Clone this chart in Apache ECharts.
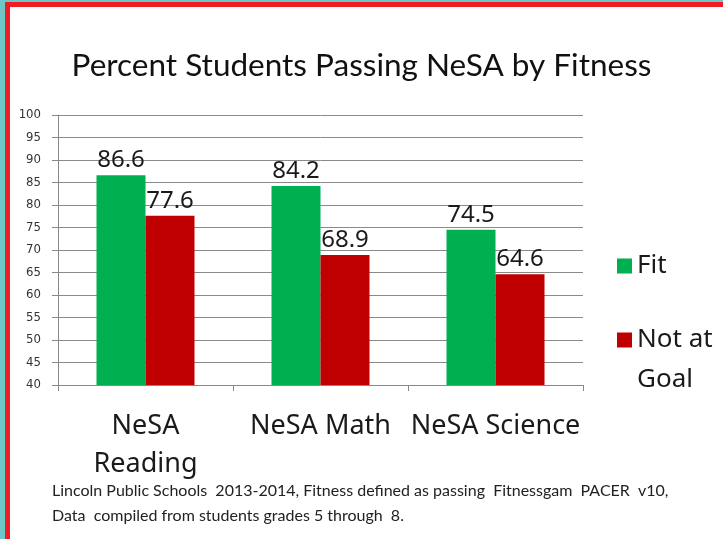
<!DOCTYPE html>
<html>
<head>
<meta charset="utf-8">
<script src="https://cdn.jsdelivr.net/npm/echarts@6/dist/echarts.min.js"></script>
<style>
    html, body {margin:0;padding:0;background:#6ec6c6}
    #chart {width:723px;height:539px}
</style>
</head>
<body>
<div id="chart"></div>
<script>
    var categories = ['NeSA\nReading', 'NeSA Math', 'NeSA Science'];
    var fitValues = [86.6, 84.2, 74.5];
    var notAtGoalValues = [77.6, 68.9, 64.6];
    var seriesNames = ['Fit', 'Not at Goal'];
    var titleText = 'Percent Students Passing NeSA by Fitness';
    var noteText = 'Lincoln Public Schools  2013-2014, Fitness defined as passing  Fitnessgam  PACER  v10,\nData  compiled from students grades 5 through  8.';

    var chart = echarts.init(document.getElementById('chart'));

    var labelStyle = {
        show: true,
        position: 'top',
        distance: 3,
        fontSize: 24,
        color: '#1a1a1a',
        fontFamily: 'Noto Sans'
    };

    chart.setOption({
        animation: false,
        backgroundColor: 'transparent',
        graphic: [
            // red frame + white page (decoration of the slide)
            {type: 'rect', left: 5, top: 2, shape: {width: 718, height: 537}, style: {fill: '#ee1c25'}, silent: true, z: -10},
            {type: 'rect', left: 10, top: 7, shape: {width: 713, height: 532}, style: {fill: '#ffffff'}, silent: true, z: -9}
        ],
        title: [
            {
                text: titleText,
                left: 'center',
                top: 45,
                textStyle: {fontSize: 31.5, fontWeight: 'normal', color: '#111', fontFamily: 'Lato'}
            },
            {
                text: noteText,
                left: 47,
                top: 473,
                textStyle: {fontSize: 16, fontWeight: 'normal', color: '#222', fontFamily: 'Lato', lineHeight: 25}
            }
        ],
        legend: {
            orient: 'vertical',
            left: 612,
            top: 241,
            itemWidth: 15,
            itemHeight: 15,
            itemGap: -6,
            icon: 'rect',
            data: seriesNames,
            formatter: function (name) {
                return name === 'Not at Goal' ? '\nNot at\nGoal' : name;
            },
            textStyle: {fontSize: 26, color: '#1a1a1a', fontFamily: 'Noto Sans', lineHeight: 40}
        },
        grid: {left: 58, right: 140, top: 115, bottom: 154},
        xAxis: {
            type: 'category',
            data: categories,
            axisLine: {lineStyle: {color: '#888', width: 1}},
            axisTick: {show: true, length: 6, lineStyle: {color: '#888'}},
            axisLabel: {fontSize: 27, color: '#1a1a1a', fontFamily: 'Noto Sans', lineHeight: 38, margin: 22, interval: 0}
        },
        yAxis: {
            type: 'value',
            min: 40,
            max: 100,
            interval: 5,
            axisLine: {show: true, lineStyle: {color: '#888'}},
            axisTick: {show: true, length: 6, lineStyle: {color: '#888'}},
            axisLabel: {fontSize: 13, color: '#333', fontFamily: 'DejaVu Sans Condensed', margin: 17},
            splitLine: {lineStyle: {color: '#8a8a8a', width: 1}}
        },
        series: [
            {
                name: seriesNames[0],
                type: 'bar',
                data: fitValues,
                barWidth: 49,
                barGap: 0,
                itemStyle: {color: '#00b050'},
                label: labelStyle
            },
            {
                name: seriesNames[1],
                type: 'bar',
                data: notAtGoalValues,
                barWidth: 49,
                barGap: 0,
                itemStyle: {color: '#c00000'},
                label: labelStyle
            }
        ]
    });
</script>
</body>
</html>
